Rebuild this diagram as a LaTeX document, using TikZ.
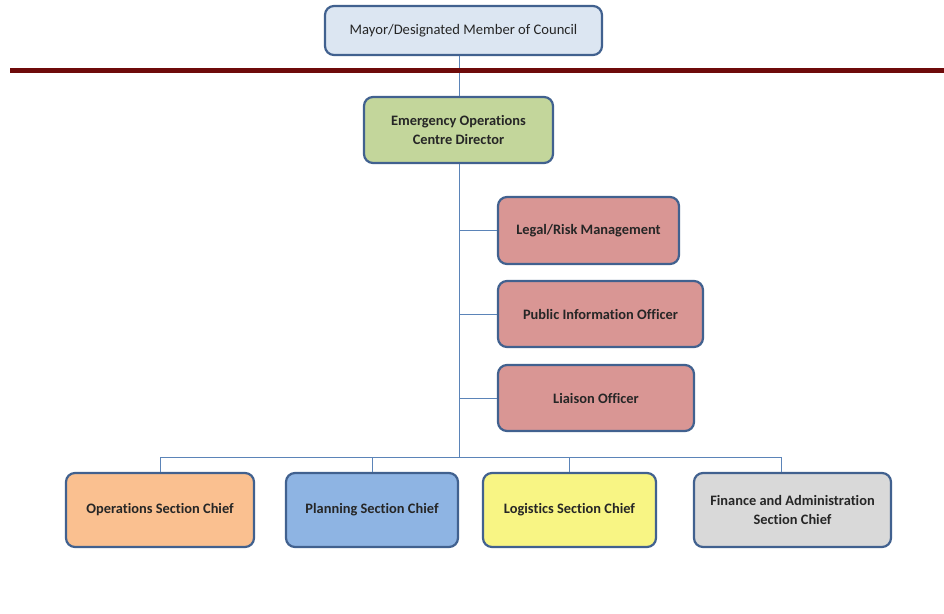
\documentclass[tikz,border=0pt]{standalone}
\usepackage{fontspec}
\setmainfont[Ligatures=NoCommon]{Carlito}
\begin{document}
\begin{tikzpicture}[x=1pt,y=-1pt,
  box/.style={draw=bordc, line width=2.2pt, rounded corners=9pt, align=center, inner sep=0pt, font=\fontsize{14.4}{18.5}\selectfont\bfseries, text=black!85},
  conn/.style={draw=connc, line width=1pt}]
\definecolor{bordc}{HTML}{41618F}
\definecolor{connc}{HTML}{5B84B8}
\definecolor{redline}{HTML}{6E0A0A}
\definecolor{mayorc}{HTML}{DCE6F2}
\definecolor{eocc}{HTML}{C3D69B}
\definecolor{redc}{HTML}{D99694}
\definecolor{opsc}{HTML}{FAC090}
\definecolor{planc}{HTML}{8EB4E3}
\definecolor{logc}{HTML}{F8F584}
\definecolor{finc}{HTML}{D9D9D9}
\useasboundingbox (0,0) rectangle (944,613);
\fill[white] (0,0) rectangle (944,613);
% nodes
\node[box, fill=mayorc, minimum width=277pt, minimum height=49pt, font=\fontsize{14.6}{18.5}\selectfont] (mayor) at (463.5,30.5) {Mayor/Designated Member of Council};
\node[box, fill=eocc, minimum width=189pt, minimum height=66pt] (eoc) at (458.5,130) {Emergency Operations\\Centre Director};
\node[box, fill=redc, minimum width=181pt, minimum height=67pt] (legal) at (588.5,230.5) {Legal/Risk Management};
\node[box, fill=redc, minimum width=205pt, minimum height=66pt] (pio) at (600.5,314) {Public Information Officer};
\node[box, fill=redc, minimum width=196pt, minimum height=66pt] (liaison) at (596,398) {Liaison Officer};
\node[box, fill=opsc, minimum width=188pt, minimum height=74pt] (ops) at (160,510) {Operations Section Chief};
\node[box, fill=planc, minimum width=172pt, minimum height=74pt] (plan) at (372,510) {Planning Section Chief};
\node[box, fill=logc, minimum width=173pt, minimum height=74pt] (log) at (569.5,510) {Logistics Section Chief};
\node[box, fill=finc, minimum width=197pt, minimum height=74pt] (fin) at (792.5,510) {Finance and Administration\\Section Chief};
% coordinates
\coordinate (bus) at (459,457);
\coordinate (busL) at (160,457);
\coordinate (busR) at (781,457);
% connectors
\draw[conn] (mayor.south -| 459,0) -- (eoc.north -| 459,0);
\draw[conn] (eoc.south -| 459,0) -- (bus);
\draw[conn] (legal.west -| 459,0) -- (legal.west);
\draw[conn] (pio.west -| 459,0) -- (pio.west);
\draw[conn] (liaison.west -| 459,0) -- (liaison.west);
\draw[conn] (busL) -- (busR);
\draw[conn] (busL) -- (ops.north -| busL);
\draw[conn] (bus -| plan.north) -- (plan.north);
\draw[conn] (bus -| log.north) -- (log.north);
\draw[conn] (busR) -- (fin.north -| busR);
\fill[redline] (10,68) rectangle (944,72.5);
\end{tikzpicture}
\end{document}
